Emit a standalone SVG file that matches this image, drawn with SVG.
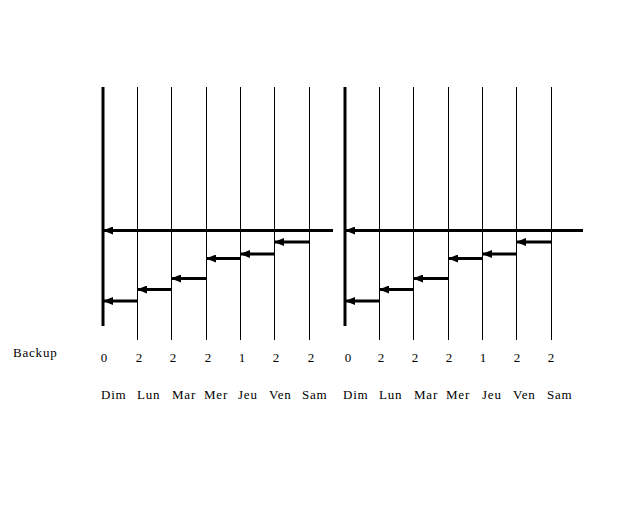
<svg xmlns="http://www.w3.org/2000/svg" width="640" height="512" viewBox="0 0 640 512">
<style>
.thick{stroke:#000;stroke-width:3;fill:none}
.thin{stroke:#000;stroke-width:1;fill:none}
.arr{stroke:#000;stroke-width:3;fill:none;marker-end:url(#ah)}
text{font-family:"Liberation Serif","Times New Roman",serif;font-size:13px;fill:#000;letter-spacing:0.8px}
.n{text-anchor:middle;letter-spacing:0}
</style>
<defs>
<marker id="ah" markerUnits="userSpaceOnUse" viewBox="0 0 10 8" refX="9" refY="4" markerWidth="10" markerHeight="8" orient="auto">
<path d="M0,0 L10,4 L0,8 Z" fill="#000"/>
</marker>
</defs>
<rect width="640" height="512" fill="#fff"/>
<g id="grid">
<line class="thick" x1="103" y1="87" x2="103" y2="326"/>
<line class="thin" x1="137.5" y1="87" x2="137.5" y2="340"/>
<line class="thin" x1="171.5" y1="87" x2="171.5" y2="340"/>
<line class="thin" x1="206.5" y1="87" x2="206.5" y2="340"/>
<line class="thin" x1="240.5" y1="87" x2="240.5" y2="340"/>
<line class="thin" x1="274.5" y1="87" x2="274.5" y2="340"/>
<line class="thin" x1="309.5" y1="87" x2="309.5" y2="340"/>
<line class="thick" x1="345" y1="87" x2="345" y2="326"/>
<line class="thin" x1="379.5" y1="87" x2="379.5" y2="340"/>
<line class="thin" x1="413.5" y1="87" x2="413.5" y2="340"/>
<line class="thin" x1="448.5" y1="87" x2="448.5" y2="340"/>
<line class="thin" x1="482.5" y1="87" x2="482.5" y2="340"/>
<line class="thin" x1="516.5" y1="87" x2="516.5" y2="340"/>
<line class="thin" x1="551.5" y1="87" x2="551.5" y2="340"/>
</g>
<g id="connectors">
<line class="arr" x1="333" y1="230.5" x2="104" y2="230.5"/>
<line class="arr" x1="309" y1="242" x2="275" y2="242"/>
<line class="arr" x1="274" y1="254" x2="241" y2="254"/>
<line class="arr" x1="240" y1="258.5" x2="207" y2="258.5"/>
<line class="arr" x1="206" y1="278.5" x2="172" y2="278.5"/>
<line class="arr" x1="171" y1="289.5" x2="138" y2="289.5"/>
<line class="arr" x1="137" y1="301" x2="104" y2="301"/>
<line class="arr" x1="583" y1="230.5" x2="346" y2="230.5"/>
<line class="arr" x1="551" y1="242" x2="517" y2="242"/>
<line class="arr" x1="516" y1="254" x2="483" y2="254"/>
<line class="arr" x1="482" y1="258.5" x2="449" y2="258.5"/>
<line class="arr" x1="448" y1="278.5" x2="414" y2="278.5"/>
<line class="arr" x1="413" y1="289.5" x2="380" y2="289.5"/>
<line class="arr" x1="379" y1="301" x2="346" y2="301"/>
</g>
<g id="labels">
<text x="13" y="357">Backup</text>
<text class="n" x="104" y="362">0</text>
<text class="n" x="139" y="362">2</text>
<text class="n" x="173" y="362">2</text>
<text class="n" x="208" y="362">2</text>
<text class="n" x="242" y="362">1</text>
<text class="n" x="276" y="362">2</text>
<text class="n" x="311" y="362">2</text>
<text class="n" x="348" y="362">0</text>
<text class="n" x="381" y="362">2</text>
<text class="n" x="415" y="362">2</text>
<text class="n" x="449" y="362">2</text>
<text class="n" x="483" y="362">1</text>
<text class="n" x="517" y="362">2</text>
<text class="n" x="551" y="362">2</text>
<text x="101" y="399">Dim</text>
<text x="137" y="399">Lun</text>
<text x="172" y="399">Mar</text>
<text x="204" y="399">Mer</text>
<text x="238" y="399">Jeu</text>
<text x="269" y="399">Ven</text>
<text x="302" y="399">Sam</text>
<text x="343" y="399">Dim</text>
<text x="379" y="399">Lun</text>
<text x="414" y="399">Mar</text>
<text x="446" y="399">Mer</text>
<text x="482" y="399">Jeu</text>
<text x="513" y="399">Ven</text>
<text x="547" y="399">Sam</text>
</g>
</svg>
